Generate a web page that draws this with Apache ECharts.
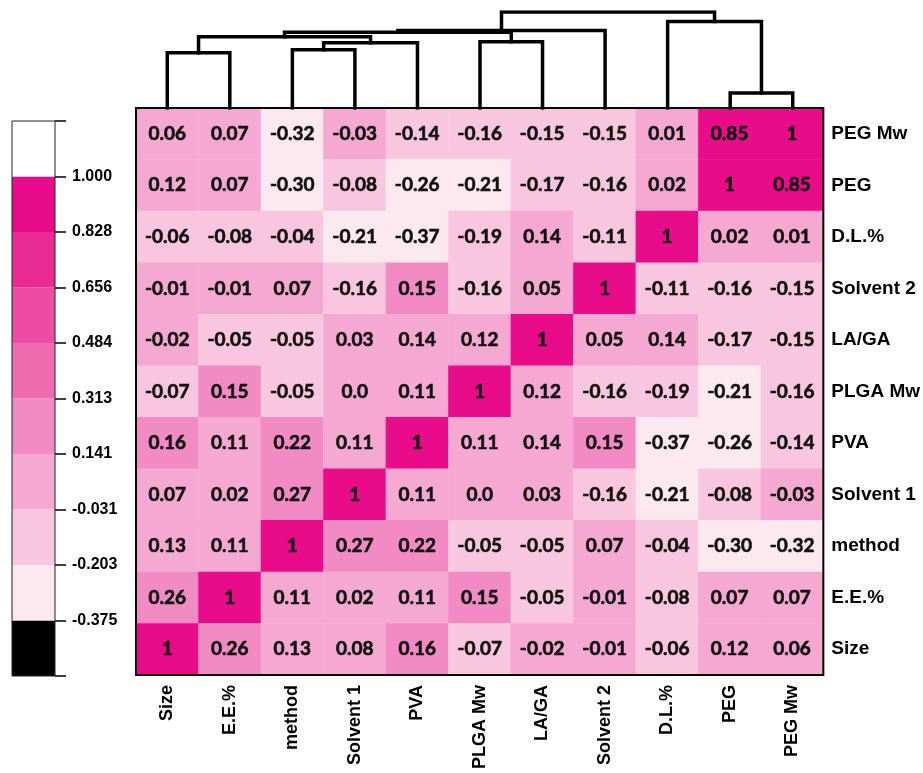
<!DOCTYPE html>
<html>
<head>
<meta charset="utf-8">
<script src="https://cdn.jsdelivr.net/npm/echarts@6/dist/echarts.min.js"></script>
<style>
html,body{margin:0;padding:0;background:#fff;}
#chart{width:923px;height:773px;}
</style>
</head>
<body>
<div id="chart"></div>
<script>
// Column / row variables (columns left->right, rows listed top->bottom)
const colLabels = ['Size','E.E.%','method','Solvent 1','PVA','PLGA Mw','LA/GA','Solvent 2','D.L.%','PEG','PEG Mw'];
const rowLabelsTopDown = ['PEG Mw','PEG','D.L.%','Solvent 2','LA/GA','PLGA Mw','PVA','Solvent 1','method','E.E.%','Size'];

// Correlation values, one array per row (top -> bottom)
const rowPEGMw    = [0.06, 0.07, -0.32, -0.03, -0.14, -0.16, -0.15, -0.15, 0.01, 0.85, 1];
const rowPEG      = [0.12, 0.07, -0.30, -0.08, -0.26, -0.21, -0.17, -0.16, 0.02, 1, 0.85];
const rowDL       = [-0.06, -0.08, -0.04, -0.21, -0.37, -0.19, 0.14, -0.11, 1, 0.02, 0.01];
const rowSolvent2 = [-0.01, -0.01, 0.07, -0.16, 0.15, -0.16, 0.05, 1, -0.11, -0.16, -0.15];
const rowLAGA     = [-0.02, -0.05, -0.05, 0.03, 0.14, 0.12, 1, 0.05, 0.14, -0.17, -0.15];
const rowPLGAMw   = [-0.07, 0.15, -0.05, 0.0, 0.11, 1, 0.12, -0.16, -0.19, -0.21, -0.16];
const rowPVA      = [0.16, 0.11, 0.22, 0.11, 1, 0.11, 0.14, 0.15, -0.37, -0.26, -0.14];
const rowSolvent1 = [0.07, 0.02, 0.27, 1, 0.11, 0.0, 0.03, -0.16, -0.21, -0.08, -0.03];
const rowMethod   = [0.13, 0.11, 1, 0.27, 0.22, -0.05, -0.05, 0.07, -0.04, -0.30, -0.32];
const rowEE       = [0.26, 1, 0.11, 0.02, 0.11, 0.15, -0.05, -0.01, -0.08, 0.07, 0.07];
const rowSize     = [1, 0.26, 0.13, 0.08, 0.16, -0.07, -0.02, -0.01, -0.06, 0.12, 0.06];
const rowsTopDown = [rowPEGMw, rowPEG, rowDL, rowSolvent2, rowLAGA, rowPLGAMw, rowPVA, rowSolvent1, rowMethod, rowEE, rowSize];

// Colour key: tick labels at bin edges (bottom -> top) and bin colours (bottom -> top)
const keyTickLabels = ['-0.375','-0.203','-0.031','0.141','0.313','0.484','0.656','0.828','1.000'];
const keyColors = ['#000000','#FCE9F0','#F8C6DF','#F5A9D2','#F28BC3','#F06CB1','#EE4CA2','#EB2B94','#E80C8B','#FFFFFF'];

// Column dendrogram (leaf indices follow colLabels; new clusters numbered 11,12,...)
const linkLeft   = [0, 2, 12, 11, 5, 14, 16, 9, 8, 17];
const linkRight  = [1, 3, 4, 13, 6, 15, 7, 10, 18, 19];
const linkHeight = [0.576, 0.607, 0.68, 0.743, 0.69, 0.79, 0.806, 0.157, 0.90, 1.0];

// ---- build series data ----
const nLeaf = colLabels.length;
const heatData = [];
rowsTopDown.forEach((row, r) => {
  row.forEach((v, c) => heatData.push([c, nLeaf - 1 - r, v]));
});
const rowLabelsBottomUp = rowLabelsTopDown.slice().reverse();

const nodeX = [], nodeH = [];
for (let i = 0; i < nLeaf; i++) { nodeX.push(i); nodeH.push(0); }
const dendroLines = [];
for (let k = 0; k < linkLeft.length; k++) {
  const a = linkLeft[k], b = linkRight[k], h = linkHeight[k];
  dendroLines.push({coords: [[nodeX[a], nodeH[a]], [nodeX[a], h], [nodeX[b], h], [nodeX[b], nodeH[b]]]});
  nodeX.push((nodeX[a] + nodeX[b]) / 2);
  nodeH.push(h);
}

const edges = keyTickLabels.map(parseFloat);
const pieces = [{lt: edges[0], color: keyColors[0]}];
for (let i = 0; i < edges.length - 1; i++) {
  const p = {gte: edges[i], color: keyColors[i + 1]};
  if (i === edges.length - 2) p.lte = edges[i + 1]; else p.lt = edges[i + 1];
  pieces.push(p);
}
pieces.push({gt: edges[edges.length - 1], color: keyColors[keyColors.length - 1]});

const keySeries = keyColors.map((c, i) => ({
  type: 'bar', xAxisIndex: 2, yAxisIndex: 2, stack: 'key', data: [1],
  barWidth: '100%', itemStyle: {color: c}, silent: true, animation: false
}));

function fmt(v) {
  if (v === 1) return '1';
  if (v === 0) return '0.0';
  return v.toFixed(2);
}

const chart = echarts.init(document.getElementById('chart'), null, {renderer: 'canvas'});
chart.setOption({
  animation: false,
  backgroundColor: '#ffffff',
  grid: [
    {left: 136, top: 108, width: 688, height: 567, show: true, borderColor: '#000', borderWidth: 2, backgroundColor: 'transparent', z: 5},
    {left: 136, top: 12, width: 688, height: 96, show: false},
    {left: 12, top: 121, width: 43, height: 555, show: true, borderColor: '#222', borderWidth: 1, z: 5}
  ],
  xAxis: [
    {type: 'category', gridIndex: 0, data: colLabels, position: 'bottom',
     axisLine: {show: false}, axisTick: {show: false}, splitLine: {show: false},
     axisLabel: {rotate: 90, margin: 10, fontFamily: 'Liberation Sans, Arial, sans-serif', fontWeight: 'bold', fontSize: 18, color: '#000', interval: 0}},
    {type: 'value', gridIndex: 1, min: -0.5, max: 10.5, show: false},
    {type: 'category', gridIndex: 2, data: [''], show: false}
  ],
  yAxis: [
    {type: 'category', gridIndex: 0, data: rowLabelsBottomUp, position: 'right',
     axisLine: {show: false}, axisTick: {show: false}, splitLine: {show: false},
     axisLabel: {margin: 8, fontFamily: 'Liberation Sans, Arial, sans-serif', fontWeight: 'bold', fontSize: 19, color: '#000', interval: 0}},
    {type: 'value', gridIndex: 1, min: 0, max: 1, show: false},
    {type: 'value', gridIndex: 2, min: 0, max: keyColors.length, interval: 1, position: 'right',
     axisLine: {show: false}, splitLine: {show: false},
     axisTick: {show: true, length: 11, lineStyle: {color: '#000', width: 1.5},
       interval: function (i, v) { return true; }},
     axisLabel: {margin: 17, fontFamily: 'Liberation Sans, Arial, sans-serif', fontWeight: 'bold', fontSize: 16, color: '#000',
       formatter: function (v) { const i = Math.round(v) - 1; return (i >= 0 && i < keyTickLabels.length) ? keyTickLabels[i] : ''; }}}
  ],
  visualMap: {
    type: 'piecewise', show: false, seriesIndex: 0, dimension: 2, pieces: pieces
  },
  series: [
    {type: 'heatmap', xAxisIndex: 0, yAxisIndex: 0, data: heatData,
     label: {show: true, formatter: p => fmt(p.value[2]), fontFamily: 'Lato, Open Sans, sans-serif', fontWeight: 'bold', fontSize: 19, color: '#111',
       textBorderColor: '#111', textBorderWidth: 0.6},
     itemStyle: {borderWidth: 0}, emphasis: {disabled: true}},
    {type: 'lines', coordinateSystem: 'cartesian2d', xAxisIndex: 1, yAxisIndex: 1, polyline: true,
     data: dendroLines, lineStyle: {color: '#000', width: 3.5, opacity: 1, cap: 'square', join: 'miter'}, silent: true}
  ].concat(keySeries)
});
</script>
</body>
</html>
